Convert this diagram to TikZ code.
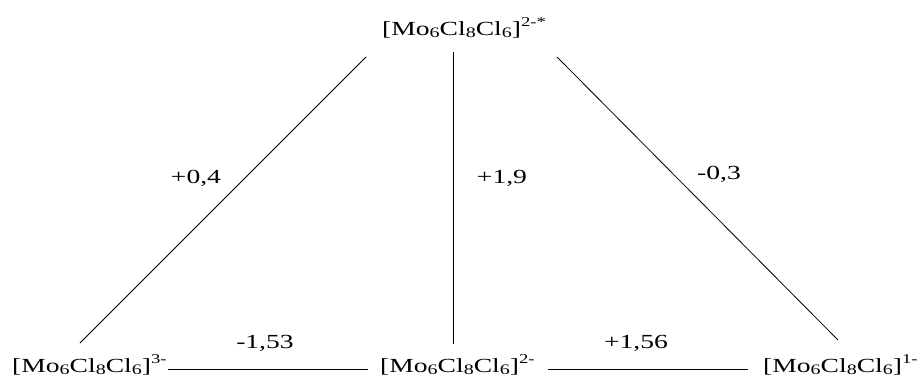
\documentclass[tikz,border=0pt]{standalone}
\usepackage{fontspec}
\setmainfont{Liberation Serif}
\usepackage{graphicx}
\newcommand\sx[1]{\scalebox{1.38}[1]{#1}}
\newcommand\sbs[1]{\raisebox{-0.14em}{\fontsize{14.5}{15}\selectfont #1}}
\newcommand\sps[1]{\raisebox{0.42em}{\fontsize{13.5}{15}\selectfont #1}}
\newcommand\cl[1]{[Mo\sbs{6}Cl\sbs{8}Cl\sbs{6}]\sps{#1}}
\begin{document}
\begin{tikzpicture}[x=1pt,y=-1pt,
  lbl/.style={inner sep=0pt,font=\fontsize{20}{22}\selectfont},
  ln/.style={draw=black,line width=0.8pt}]
\useasboundingbox (0,0) rectangle (922,378);
\node[lbl,anchor=base west] (top) at (382,35) {\sx{\cl{2-*}}};
\node[lbl,anchor=base west] (l3) at (12,372) {\sx{\cl{3-}}};
\node[lbl,anchor=base west] (l2) at (380,372) {\sx{\cl{2-}}};
\node[lbl,anchor=base west] (l1) at (763,372) {\sx{\cl{1-}}};
\node[lbl] (e1) at (196,178) {\sx{+0,4}};
\node[lbl] (e2) at (502,178) {\sx{+1,9}};
\node[lbl] (e3) at (719,174) {\sx{-0,3}};
\node[lbl] (e4) at (265,343) {\sx{-1,53}};
\node[lbl] (e5) at (636,343) {\sx{+1,56}};
\coordinate (a1) at (366,57);
\coordinate (a2) at (80,343);
\coordinate (b1) at (453,52);
\coordinate (b2) at (453,344);
\coordinate (c1) at (557,57);
\coordinate (c2) at (838,340);
\coordinate (d1) at (168,369);
\coordinate (d2) at (368,369);
\coordinate (f1) at (548,369);
\coordinate (f2) at (748,369);
\draw[ln] (a1) -- (a2);
\draw[ln] (b1) -- (b2);
\draw[ln] (c1) -- (c2);
\draw[ln] (d1) -- (d2);
\draw[ln] (f1) -- (f2);
\end{tikzpicture}
\end{document}
